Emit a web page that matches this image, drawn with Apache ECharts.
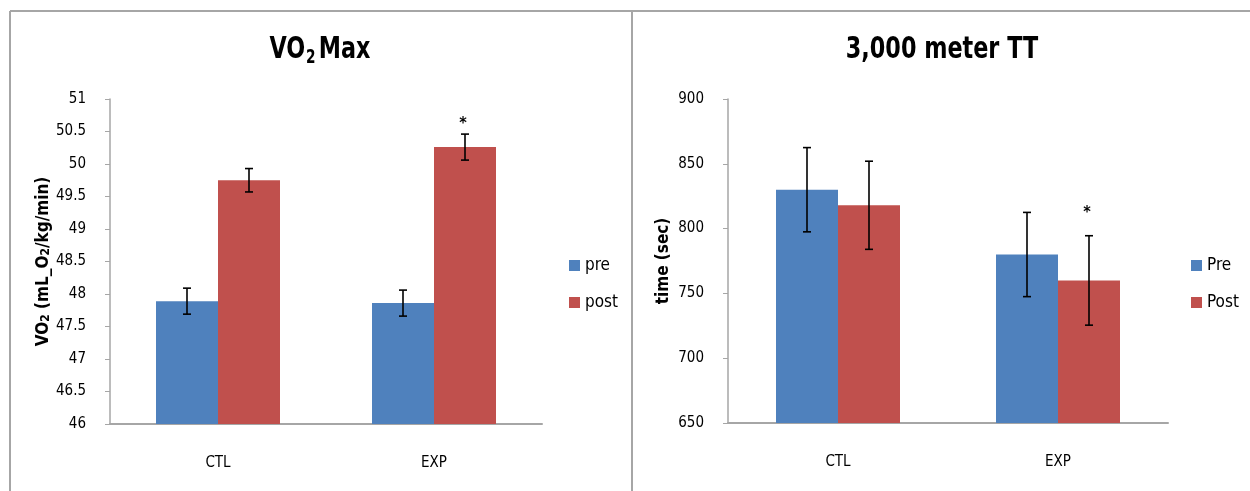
<!DOCTYPE html>
<html>
<head>
<meta charset="utf-8">
<script src="https://cdn.jsdelivr.net/npm/echarts@6/dist/echarts.min.js"></script>
<style>
  html, body { margin: 0; padding: 0; background: #fff; }
  #main { width: 1250px; height: 491px; }
</style>
</head>
<body>
<div id="main"></div>
<script>
const categories = ['CTL', 'EXP'];

// VO2 max panel
const vo2Pre = [47.89, 47.86];
const vo2PreErr = [0.2, 0.2];
const vo2Post = [49.75, 50.26];
const vo2PostErr = [0.18, 0.2];
const vo2PostStar = ['', '*'];

// 3,000 meter TT panel
const ttPre = [830, 780];
const ttPreErr = [32.5, 32.5];
const ttPost = [818, 760];
const ttPostErr = [34, 34.5];
const ttPostStar = ['', '*'];

const FONT = "'Liberation Sans Narrow', 'DejaVu Sans Condensed', 'Arial Narrow', sans-serif";
const BLUE = '#4f81bd';
const RED = '#c0504d';
const AXIS_GREY = '#a6a6a6';
const BAR_W = 62;

const chart = echarts.init(document.getElementById('main'));

// error bar (+ optional asterisk) drawn as a custom series
function errorSeries(gridIdx, values, errs, stars, side, starLift) {
    return {
        type: 'custom',
        xAxisIndex: gridIdx,
        yAxisIndex: gridIdx,
        silent: true,
        z: 10,
        data: values.map((v, i) => [i, v, errs[i]]),
        renderItem: function (params, api) {
            const i = api.value(0);
            const v = api.value(1);
            const e = api.value(2);
            const star = stars ? stars[i] : '';
            const top = api.coord([i, v + e]);
            const bot = api.coord([i, v - e]);
            const x = top[0] + side * BAR_W / 2;
            const cap = 4;
            const style = { stroke: '#000', lineWidth: 1.6 };
            const children = [
                { type: 'line', shape: { x1: x, y1: top[1], x2: x, y2: bot[1] }, style: style },
                { type: 'line', shape: { x1: x - cap, y1: top[1], x2: x + cap, y2: top[1] }, style: style },
                { type: 'line', shape: { x1: x - cap, y1: bot[1], x2: x + cap, y2: bot[1] }, style: style }
            ];
            if (star) {
                children.push({
                    type: 'text',
                    style: {
                        text: star, x: x - 2, y: top[1] - starLift,
                        align: 'center', verticalAlign: 'bottom',
                        font: 'bold 16px ' + FONT, fill: '#000'
                    }
                });
            }
            return { type: 'group', children: children };
        }
    };
}

function yAxisBase(gridIdx, min, max, interval, name, nameRich, nameGap) {
    return {
        type: 'value',
        gridIndex: gridIdx,
        min: min, max: max, interval: interval,
        name: name,
        nameLocation: 'middle',
        nameGap: nameGap,
        nameTextStyle: {
            fontFamily: FONT, fontWeight: 'bold', fontSize: 17, color: '#000',
            rich: nameRich
        },
        axisLine: { show: true, lineStyle: { color: AXIS_GREY, width: 1.5 } },
        axisTick: { show: true, length: 5, lineStyle: { color: AXIS_GREY } },
        splitLine: { show: false },
        axisLabel: { fontFamily: FONT, fontSize: 15, color: '#000', margin: 24 }
    };
}

function xAxisBase(gridIdx) {
    return {
        type: 'category',
        gridIndex: gridIdx,
        data: categories,
        axisLine: { lineStyle: { color: AXIS_GREY, width: 2 } },
        axisTick: { show: false },
        axisLabel: { fontFamily: FONT, fontSize: 15, color: '#000', margin: 32 }
    };
}

function legendBase(names, left) {
    return {
        data: names,
        orient: 'vertical',
        left: left, top: 252,
        itemWidth: 11, itemHeight: 11, itemGap: 20,
        icon: 'rect',
        textStyle: { fontFamily: FONT, fontSize: 17, color: '#000' }
    };
}

const titleRich = {
    a: { font: 'bold 31px ' + FONT, fill: '#000', lineHeight: 36 },
    s: { font: 'bold 19px ' + FONT, fill: '#000', lineHeight: 19, verticalAlign: 'bottom', padding: [0, 4, 0, 1] }
};

const option = {
    backgroundColor: '#fff',
    animation: false,
    legend: [legendBase(['pre', 'post'], 564), legendBase(['Pre', 'Post'], 1186)],
    grid: [
        { left: 110, right: 708, top: 99, bottom: 67 },
        { left: 728, right: 82, top: 99, bottom: 68 }
    ],
    xAxis: [xAxisBase(0), xAxisBase(1)],
    yAxis: [
        yAxisBase(0, 46, 51, 0.5, 'VO{s|2} (mL_O{s|2}/kg/min)', {
            s: { fontFamily: FONT, fontWeight: 'bold', fontSize: 12, color: '#000', verticalAlign: 'bottom' }
        }, 58),
        yAxisBase(1, 650, 900, 50, 'time (sec)', {}, 56)
    ],
    series: [
        { name: 'pre', type: 'bar', xAxisIndex: 0, yAxisIndex: 0, data: vo2Pre, barWidth: BAR_W, barGap: '0%', itemStyle: { color: BLUE } },
        { name: 'post', type: 'bar', xAxisIndex: 0, yAxisIndex: 0, data: vo2Post, barWidth: BAR_W, barGap: '0%', itemStyle: { color: RED } },
        { name: 'Pre', type: 'bar', xAxisIndex: 1, yAxisIndex: 1, data: ttPre, barWidth: BAR_W, barGap: '0%', itemStyle: { color: BLUE } },
        { name: 'Post', type: 'bar', xAxisIndex: 1, yAxisIndex: 1, data: ttPost, barWidth: BAR_W, barGap: '0%', itemStyle: { color: RED } },
        errorSeries(0, vo2Pre, vo2PreErr, null, -1, 0),
        errorSeries(0, vo2Post, vo2PostErr, vo2PostStar, 1, 2),
        errorSeries(1, ttPre, ttPreErr, null, -1, 0),
        errorSeries(1, ttPost, ttPostErr, ttPostStar, 1, 15)
    ],
    graphic: [
        // panel titles (text squeezed horizontally like the original)
        {
            type: 'text', x: 320, y: 50, scaleX: 0.8, silent: true,
            style: { text: '{a|VO}{s|2}{a|Max}', rich: titleRich, align: 'center', verticalAlign: 'middle' }
        },
        {
            type: 'text', x: 942, y: 50, scaleX: 0.8, silent: true,
            style: { text: '3,000 meter TT', font: 'bold 31px ' + FONT, fill: '#000', align: 'center', verticalAlign: 'middle' }
        },
        // panel frames
        { type: 'line', shape: { x1: 10, y1: 11, x2: 1250, y2: 11 }, style: { stroke: AXIS_GREY, lineWidth: 2 }, silent: true },
        { type: 'line', shape: { x1: 10, y1: 11, x2: 10, y2: 491 }, style: { stroke: AXIS_GREY, lineWidth: 2 }, silent: true },
        { type: 'line', shape: { x1: 632, y1: 11, x2: 632, y2: 491 }, style: { stroke: AXIS_GREY, lineWidth: 2 }, silent: true }
    ]
};

chart.setOption(option);
</script>
</body>
</html>
